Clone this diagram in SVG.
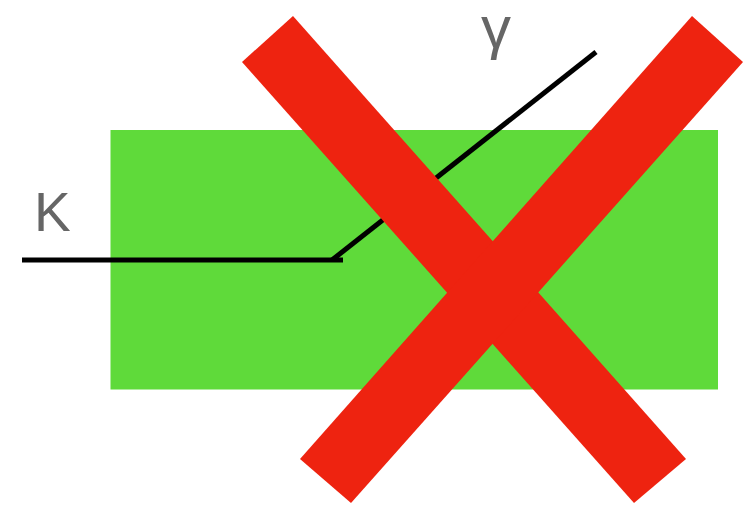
<svg xmlns="http://www.w3.org/2000/svg" width="746" height="507" viewBox="0 0 746 507">
<style>
.lbl{font-family:"Liberation Sans",Arial,sans-serif;fill:#666666}
.bar{fill:#ee2310}
.wire{stroke:#000;stroke-width:5;fill:none}
</style>
<rect width="746" height="507" fill="#ffffff"/>
<g id="block"><rect x="110.5" y="130" width="607.5" height="259.5" fill="#5fda3a"/></g>
<g id="connectors">
<path class="wire" d="M22,260 L343,260"/>
<path class="wire" d="M332,260 L596,52"/>
</g>
<g id="cross">
<polygon class="bar" points="293,16 686,459 634,503 242,62"/>
<polygon class="bar" points="692,16 743,62 351,503 300,459"/>
</g>
<g id="label-k"><text class="lbl" x="34" y="231" font-size="55">K</text></g>
<g id="label-gamma"><text class="lbl" x="481" y="48" font-size="60">γ</text></g>
</svg>
